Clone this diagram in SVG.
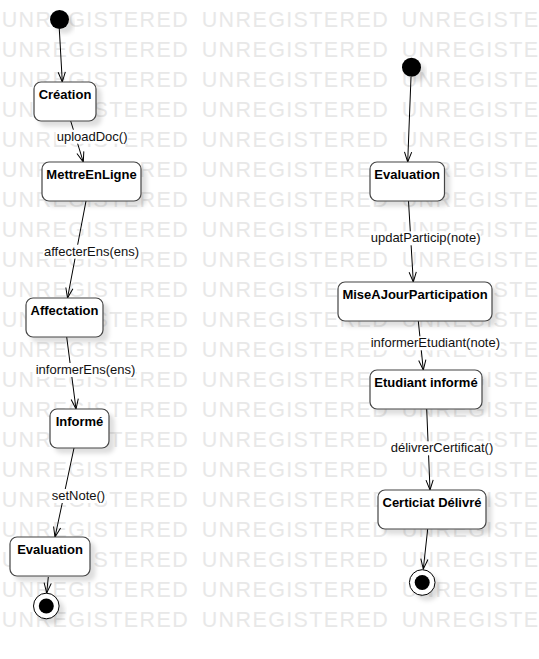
<svg xmlns="http://www.w3.org/2000/svg" xmlns:xlink="http://www.w3.org/1999/xlink" width="539" height="659" viewBox="0 0 539 659">
<style>
.wm{font-family:"Liberation Sans",Arial,sans-serif;font-size:21.5px;fill:#e8e8e8}
.box{fill:#fff;stroke:#444;stroke-width:1.2}
.nt{font-family:"Liberation Sans",Arial,sans-serif;font-size:13px;font-weight:bold;fill:#000;text-anchor:middle}
.el{font-family:"Liberation Sans",Arial,sans-serif;font-size:13px;fill:#111}
.lbg{fill:#fff}
.edge{stroke:#000;stroke-width:1;fill:none;marker-end:url(#arr)}
.sh{filter:url(#shadow)}
</style>
<defs>
<filter id="shadow" x="-20%" y="-20%" width="150%" height="160%">
<feDropShadow dx="5" dy="5" stdDeviation="2" flood-color="#000" flood-opacity="0.13"/>
</filter>
<marker id="arr" viewBox="-11 -5 12 10" refX="0" refY="0" markerWidth="12" markerHeight="10" markerUnits="userSpaceOnUse" orient="auto">
<path d="M-10,-3.6 L0,0 L-10,3.6" fill="none" stroke="#000" stroke-width="1"/>
</marker>
<g id="wmrow">
<text class="wm" x="1.7" y="0" textLength="186" lengthAdjust="spacing">UNREGISTERED</text>
<text class="wm" x="201.7" y="0" textLength="186" lengthAdjust="spacing">UNREGISTERED</text>
<text class="wm" x="401.7" y="0" textLength="186" lengthAdjust="spacing">UNREGISTERED</text>
</g>
</defs>
<rect width="539" height="659" fill="#fff"/>
<g id="watermark">
<use xlink:href="#wmrow" y="27.3"/>
<use xlink:href="#wmrow" y="57.3"/>
<use xlink:href="#wmrow" y="87.3"/>
<use xlink:href="#wmrow" y="117.3"/>
<use xlink:href="#wmrow" y="147.3"/>
<use xlink:href="#wmrow" y="177.3"/>
<use xlink:href="#wmrow" y="207.3"/>
<use xlink:href="#wmrow" y="237.3"/>
<use xlink:href="#wmrow" y="267.3"/>
<use xlink:href="#wmrow" y="297.3"/>
<use xlink:href="#wmrow" y="327.3"/>
<use xlink:href="#wmrow" y="357.3"/>
<use xlink:href="#wmrow" y="387.3"/>
<use xlink:href="#wmrow" y="417.3"/>
<use xlink:href="#wmrow" y="447.3"/>
<use xlink:href="#wmrow" y="477.3"/>
<use xlink:href="#wmrow" y="507.3"/>
<use xlink:href="#wmrow" y="537.3"/>
<use xlink:href="#wmrow" y="567.3"/>
<use xlink:href="#wmrow" y="597.3"/>
<use xlink:href="#wmrow" y="627.3"/>
</g>
<g id="connectors">
<line class="edge" x1="59.3" y1="29" x2="62.3" y2="82"/>
<line class="edge" x1="70.7" y1="121" x2="83.3" y2="162"/>
<line class="edge" x1="86" y1="201" x2="67.5" y2="298"/>
<line class="edge" x1="66.7" y1="337" x2="76" y2="409"/>
<line class="edge" x1="74" y1="448" x2="55" y2="537"/>
<line class="edge" x1="48.3" y1="577" x2="46.7" y2="593"/>
<line class="edge" x1="411" y1="77" x2="407.7" y2="162"/>
<line class="edge" x1="408.5" y1="201" x2="413.3" y2="282"/>
<line class="edge" x1="418.3" y1="321" x2="423.3" y2="370"/>
<line class="edge" x1="426.7" y1="409" x2="430" y2="490"/>
<line class="edge" x1="427.7" y1="529" x2="423.3" y2="569"/>
<g id="labels">
<rect class="lbg" x="55.7" y="129.7" width="72" height="14"/>
<text class="el" x="56.7" y="140.7">uploadDoc()</text>
<rect class="lbg" x="43" y="244.7" width="96" height="14"/>
<text class="el" x="44" y="255.7">affecterEns(ens)</text>
<rect class="lbg" x="34.7" y="363" width="101" height="14"/>
<text class="el" x="35.7" y="374">informerEns(ens)</text>
<rect class="lbg" x="50.7" y="489" width="55" height="14"/>
<text class="el" x="51.7" y="500">setNote()</text>
<rect class="lbg" x="369.7" y="231.3" width="111" height="14"/>
<text class="el" x="370.7" y="242.3">updatParticip(note)</text>
<rect class="lbg" x="369.7" y="336.3" width="131" height="14"/>
<text class="el" x="370.7" y="347.3">informerEtudiant(note)</text>
<rect class="lbg" x="389.7" y="441.3" width="104" height="14"/>
<text class="el" x="390.7" y="452.3">délivrerCertificat()</text>
</g>
</g>
<g id="start-left"><circle class="sh" cx="59.5" cy="19.5" r="9.5" fill="#000"/></g>
<g id="creation"><rect class="box sh" x="34" y="82" width="62" height="39" rx="7"/><text class="nt" x="65" y="99">Création</text></g>
<g id="mettreEnLigne"><rect class="box sh" x="42" y="162" width="99" height="39" rx="7"/><text class="nt" x="91.5" y="179">MettreEnLigne</text></g>
<g id="affectation"><rect class="box sh" x="26" y="298" width="77" height="39" rx="7"/><text class="nt" x="64.5" y="315">Affectation</text></g>
<g id="informe"><rect class="box sh" x="50" y="409" width="59" height="39" rx="7"/><text class="nt" x="79.5" y="426">Informé</text></g>
<g id="evaluation-left"><rect class="box sh" x="10" y="537" width="80" height="39" rx="7"/><text class="nt" x="50" y="554">Evaluation</text></g>
<g id="end-left"><circle class="sh" cx="46.3" cy="606" r="12.8" fill="#fff" stroke="#000" stroke-width="1"/><circle cx="46.3" cy="606" r="7.5" fill="#000"/></g>
<g id="start-right"><circle class="sh" cx="411.5" cy="67.3" r="9.5" fill="#000"/></g>
<g id="evaluation-right"><rect class="box sh" x="370" y="162" width="74.5" height="39" rx="7"/><text class="nt" x="407.2" y="179">Evaluation</text></g>
<g id="miseAJourParticipation"><rect class="box sh" x="338" y="282" width="154" height="39" rx="7"/><text class="nt" x="415" y="299">MiseAJourParticipation</text></g>
<g id="etudiantInforme"><rect class="box sh" x="370" y="370" width="112" height="39" rx="7"/><text class="nt" x="426" y="387">Etudiant informé</text></g>
<g id="certificatDelivre"><rect class="box sh" x="378" y="490" width="108" height="39" rx="7"/><text class="nt" x="432" y="507">Certiciat Délivré</text></g>
<g id="end-right"><circle class="sh" cx="422.2" cy="582.5" r="12.8" fill="#fff" stroke="#000" stroke-width="1"/><circle cx="422.2" cy="582.5" r="7.5" fill="#000"/></g>
</svg>
